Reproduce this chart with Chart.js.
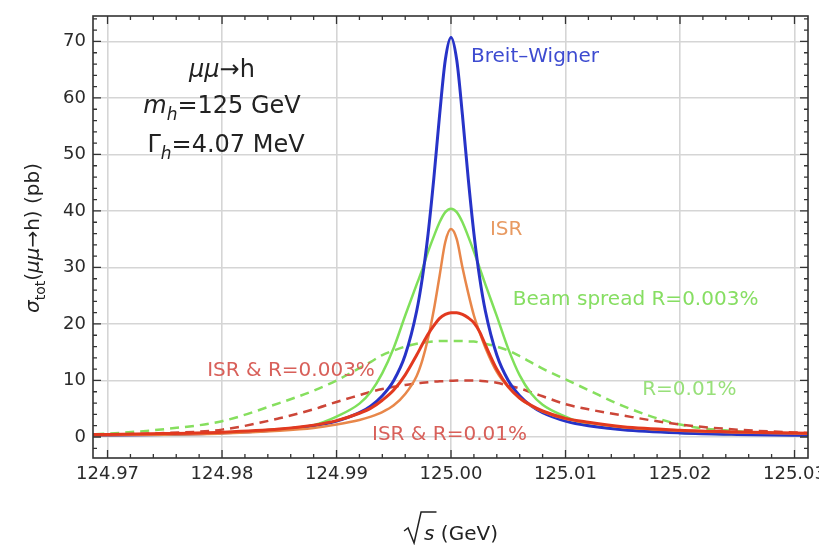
<!DOCTYPE html>
<html>
<head>
<meta charset="utf-8">
<script src="https://cdn.jsdelivr.net/npm/chart.js@4.4.0/dist/chart.umd.min.js"></script>
<style>
  html, body { margin: 0; padding: 0; background: #fff; }
  #wrap { width: 819px; height: 545px; }
</style>
</head>
<body>
<div id="wrap"><canvas id="xsec" width="819" height="545"></canvas></div>
<script>
// sqrt(s) sample points in GeV
const sqrtS = [124.965, 124.970, 124.975, 124.980, 124.985, 124.988, 124.990, 124.992, 124.993, 124.994,
  124.995, 124.996, 124.997, 124.9975, 124.998, 124.9985, 124.999, 124.9995, 125.000, 125.0005,
  125.001, 125.0015, 125.002, 125.0025, 125.003, 125.004, 125.005, 125.006, 125.007, 125.008,
  125.010, 125.012, 125.015, 125.020, 125.025, 125.030, 125.035];

// cross sections in pb
const breitWigner = [0.24, 0.32, 0.46, 0.72, 1.27, 1.97, 2.81, 4.3, 5.5, 7.3,
  10.0, 14.5, 22.3, 28.2, 36.0, 45.8, 56.9, 66.7, 70.7, 66.7,
  56.9, 45.8, 36.0, 28.2, 22.3, 14.5, 10.0, 7.3, 5.5, 4.3,
  2.81, 1.97, 1.27, 0.72, 0.46, 0.32, 0.24];
const isrOnly = [0.2, 0.3, 0.4, 0.6, 1.1, 1.6, 2.2, 3.0, 3.6, 4.4,
  5.6, 7.6, 10.8, 13.6, 17.5, 22.5, 28.5, 34.5, 36.8, 35.0,
  30.0, 25.5, 21.5, 18.5, 15.8, 11.5, 8.8, 6.8, 5.5, 4.5,
  3.2, 2.5, 1.7, 1.1, 0.8, 0.6, 0.5];
const beamSpread3 = [0.25, 0.33, 0.47, 0.75, 1.35, 2.1, 3.6, 5.9, 8.0, 11.3,
  15.8, 21.5, 27.0, 29.7, 32.8, 35.5, 38.0, 39.8, 40.4, 39.8,
  38.0, 35.5, 32.8, 29.9, 27.0, 21.4, 15.6, 10.9, 7.7, 5.7,
  3.6, 2.1, 1.35, 0.75, 0.47, 0.33, 0.25];
const isrBeam3 = [0.35, 0.45, 0.6, 0.85, 1.4, 2.1, 2.9, 4.2, 5.1, 6.5,
  8.3, 11.0, 14.5, 16.4, 18.2, 19.7, 21.0, 21.7, 22.0, 22.0,
  21.7, 21.1, 20.2, 18.6, 16.3, 12.0, 8.9, 6.9, 5.6, 4.6,
  3.3, 2.6, 1.8, 1.2, 0.9, 0.7, 0.6];
const beamSpread10 = [0.3, 0.6, 1.4, 2.8, 6.0, 8.2, 10.0, 12.2, 13.3, 14.5,
  15.3, 16.0, 16.5, 16.7, 16.8, 16.9, 17.0, 17.0, 17.0, 17.0,
  17.0, 16.9, 16.9, 16.7, 16.5, 16.0, 15.3, 14.3, 13.2, 12.1,
  10.2, 8.3, 5.5, 2.2, 1.0, 0.5, 0.3];
const isrBeam10 = [0.2, 0.4, 0.7, 1.3, 3.3, 4.9, 6.2, 7.4, 8.0, 8.5,
  8.9, 9.2, 9.5, 9.6, 9.7, 9.8, 9.85, 9.9, 9.95, 10.0,
  10.0, 10.0, 10.0, 9.95, 9.85, 9.6, 9.1, 8.6, 7.9, 7.2,
  5.8, 4.9, 3.8, 2.2, 1.3, 0.8, 0.5];

const xTicks = [124.97, 124.98, 124.99, 125.00, 125.01, 125.02, 125.03];
const yTicks = [0, 10, 20, 30, 40, 50, 60, 70];

const FONT = '"DejaVu Sans", Verdana, sans-serif';

function pts(ys) {
  return ys.map((y, i) => ({ x: sqrtS[i], y: y }));
}

function line(ys, color, width, dash) {
  return {
    data: pts(ys),
    borderColor: color,
    borderWidth: width,
    borderDash: dash || [],
    pointRadius: 0,
    fill: false,
    cubicInterpolationMode: 'monotone',
    clip: 0
  };
}

// draws a row of text pieces (italic / subscript) as one string
function drawRuns(ctx, runs, x, y, size, align, color) {
  const fontOf = r => (r.italic ? 'oblique ' : '') + Math.round(size * (r.sub ? 0.7 : 1)) + 'px ' + FONT;
  let w = 0;
  runs.forEach(r => { ctx.font = fontOf(r); w += ctx.measureText(r.t).width; });
  let cx = align === 'center' ? x - w / 2 : x;
  ctx.fillStyle = color;
  ctx.textBaseline = 'alphabetic';
  ctx.textAlign = 'left';
  runs.forEach(r => {
    ctx.font = fontOf(r);
    ctx.fillText(r.t, cx, y + (r.sub ? size * 0.28 : 0));
    cx += ctx.measureText(r.t).width;
  });
  return w;
}

// inward frame ticks on all four sides, plus curve labels and axis titles
const framePlugin = {
  id: 'frame',
  beforeDraw(chart) {
    const c = chart.ctx;
    c.save();
    c.fillStyle = '#fff';
    c.fillRect(0, 0, chart.width, chart.height);
    c.restore();
  },
  afterDraw(chart) {
    const c = chart.ctx;
    const a = chart.chartArea;
    const xs = chart.scales.x, ys = chart.scales.y;
    c.save();
    c.strokeStyle = '#333';
    c.lineWidth = 1.6;
    c.strokeRect(a.left, a.top, a.right - a.left, a.bottom - a.top);

    c.lineWidth = 1.3;
    c.beginPath();
    const xStep = xTicks[1] - xTicks[0];
    for (let k = -5; k <= (xTicks.length - 1) * 5 + 5; k++) {
      const v = xTicks[0] + k * xStep / 5;
      if (v < xs.min || v > xs.max) continue;
      const px = xs.getPixelForValue(v);
      const len = k % 5 === 0 ? 8 : 4;
      c.moveTo(px, a.bottom); c.lineTo(px, a.bottom - len);
      c.moveTo(px, a.top); c.lineTo(px, a.top + len);
    }
    const yStep = yTicks[1] - yTicks[0];
    for (let k = -5; k <= (yTicks.length - 1) * 5 + 5; k++) {
      const v = yTicks[0] + k * yStep / 5;
      if (v < ys.min || v > ys.max) continue;
      const py = ys.getPixelForValue(v);
      const len = k % 5 === 0 ? 8 : 4;
      c.moveTo(a.left, py); c.lineTo(a.left + len, py);
      c.moveTo(a.right, py); c.lineTo(a.right - len, py);
    }
    c.stroke();

    // curve labels, anchored in data coordinates
    const lab = (txt, x, y, color) => {
      c.font = '20px ' + FONT;
      c.fillStyle = color;
      c.textAlign = 'left';
      c.textBaseline = 'alphabetic';
      c.fillText(txt, xs.getPixelForValue(x), ys.getPixelForValue(y));
    };
    lab('Breit\u2013Wigner', 125.00175, 66.4, '#3d4bd0');
    lab('ISR', 125.0034, 35.75, '#e89a62');
    lab('Beam spread R=0.003%', 125.0054, 23.4, '#86de62');
    lab('R=0.01%', 125.0167, 7.4, '#98e07a');
    lab('ISR & R=0.003%', 124.9787, 10.8, '#d8605a');
    lab('ISR & R=0.01%', 124.9931, -0.5, '#d8605a');

    // process block
    const bx = a.left + 129;
    drawRuns(c, [{ t: '\u03bc\u03bc', italic: true }, { t: '\u2192h' }], bx, a.top + 61, 24, 'center', '#222');
    drawRuns(c, [{ t: 'm', italic: true }, { t: 'h', italic: true, sub: true }, { t: '=125 GeV' }], bx, a.top + 97, 24, 'center', '#222');
    drawRuns(c, [{ t: '\u0393' }, { t: 'h', italic: true, sub: true }, { t: '=4.07 MeV' }], bx + 4, a.top + 136, 24, 'center', '#222');

    // y title
    c.save();
    c.translate(39, (a.top + a.bottom) / 2 + 1);
    c.rotate(-Math.PI / 2);
    drawRuns(c, [{ t: '\u03c3', italic: true }, { t: 'tot', sub: true }, { t: '(' }, { t: '\u03bc\u03bc', italic: true },
      { t: '\u2192h) (pb)' }], 0, 0, 20, 'center', '#222');
    c.restore();

    // x title: sqrt(s) (GeV)
    const mid = (a.left + a.right) / 2;
    const base = 540;
    c.font = 'oblique 20px ' + FONT;
    const sW = c.measureText('s').width;
    c.font = '20px ' + FONT;
    const gW = c.measureText(' (GeV)').width;
    const rad = 19;
    const x0 = mid - (rad + sW + gW) / 2;
    c.strokeStyle = '#222';
    c.lineWidth = 1.5;
    c.beginPath();
    c.moveTo(x0, base - 9);
    c.lineTo(x0 + 4, base - 12);
    c.lineTo(x0 + 10, base + 3);
    c.lineTo(x0 + 17, base - 28);
    c.lineTo(x0 + rad + sW + 3, base - 28);
    c.stroke();
    drawRuns(c, [{ t: 's', italic: true }, { t: ' (GeV)' }], x0 + rad + 1, base, 20, 'left', '#222');
    c.restore();
  }
};

const tickFont = { family: FONT, size: 18 };

new Chart(document.getElementById('xsec'), {
  type: 'line',
  data: {
    datasets: [
      line(isrBeam3, '#e2391f', 3),
      line(isrOnly, '#e8874a', 2.5),
      line(breitWigner, '#2733c8', 3),
      line(beamSpread3, '#7fe05a', 2.5),
      line(isrBeam10, '#cc4638', 2.5, [9, 6]),
      line(beamSpread10, '#86df5e', 2.5, [9, 6])
    ]
  },
  options: {
    responsive: false,
    animation: false,
    devicePixelRatio: 1,
    layout: { padding: { top: 16, right: 11, left: 0, bottom: 0 } },
    plugins: { legend: { display: false }, tooltip: { enabled: false } },
    scales: {
      x: {
        type: 'linear',
        min: 124.96873,
        max: 125.03118,
        // the last tick label may run past the canvas edge; keep the plot width fixed
        afterFit: s => { s.height = 87; s.paddingLeft = 0; s.paddingRight = 0; },
        afterBuildTicks: s => { s.ticks = xTicks.map(v => ({ value: v })); },
        ticks: {
          font: tickFont,
          color: '#2a2a2a',
          padding: 6,
          maxRotation: 0,
          autoSkip: false,
          callback: v => v.toFixed(2)
        },
        grid: { color: '#d5d5d5', lineWidth: 1.6, drawTicks: false },
        border: { display: false }
      },
      y: {
        type: 'linear',
        min: -3.72,
        max: 74.5,
        afterFit: s => { s.width = 93; s.paddingTop = 0; s.paddingBottom = 0; },
        afterBuildTicks: s => { s.ticks = yTicks.map(v => ({ value: v })); },
        ticks: {
          font: tickFont,
          color: '#2a2a2a',
          padding: 7,
          autoSkip: false,
          callback: v => String(v)
        },
        grid: { color: '#d5d5d5', lineWidth: 1.6, drawTicks: false },
        border: { display: false }
      }
    }
  },
  plugins: [framePlugin]
});
</script>
</body>
</html>
